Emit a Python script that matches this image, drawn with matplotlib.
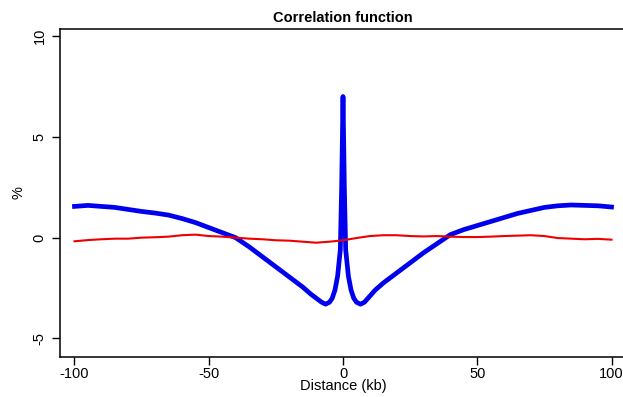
import matplotlib
matplotlib.use("Agg")
import matplotlib.pyplot as plt

plt.rcParams['font.family'] = ['Liberation Sans', 'DejaVu Sans']
plt.rcParams['axes.unicode_minus'] = False

# blue curve (distance in kb, value in %)
blue_x = [-100, -95, -90, -85, -80, -75, -70, -65, -60, -55, -50, -45, -40, -35,
          -30, -25, -20, -15, -12, -10, -8, -6.5, -5, -4, -3, -2, -1, -0.5, 0,
          0.5, 1, 2, 3, 4, 5, 6.5, 8, 10, 12, 15, 20, 25, 30, 35, 40, 45, 50,
          55, 60, 65, 70, 75, 80, 85, 90, 95, 100]
blue_y = [1.55, 1.6, 1.55, 1.5, 1.4, 1.3, 1.22, 1.12, 0.95, 0.75, 0.5, 0.25, 0.0, -0.45,
          -0.95, -1.45, -1.95, -2.45, -2.8, -3.0, -3.2, -3.3, -3.2, -3.0, -2.6, -1.9, -0.6, 2.5, 7.0,
          2.5, -0.6, -1.9, -2.6, -3.0, -3.2, -3.3, -3.2, -2.9, -2.6, -2.25, -1.75, -1.25, -0.75, -0.3, 0.15, 0.4, 0.6,
          0.8, 1.0, 1.2, 1.35, 1.5, 1.58, 1.62, 1.6, 1.58, 1.52]

# red curve
red_x = list(range(-100, 101, 5))
red_y = [-0.18, -0.12, -0.08, -0.05, -0.05, 0.0, 0.02, 0.05, 0.12, 0.15, 0.08,
         0.05, 0.0, -0.05, -0.08, -0.13, -0.15, -0.2, -0.25, -0.2, -0.13,
         -0.02, 0.08, 0.12, 0.12, 0.08, 0.06, 0.08, 0.05, 0.03, 0.03,
         0.05, 0.08, 0.1, 0.12, 0.08, -0.02, -0.05, -0.08, -0.06, -0.1]

x_ticks = [-100, -50, 0, 50, 100]
y_ticks = [-5, 0, 5, 10]

fig = plt.figure(figsize=(6.23, 3.97), dpi=100)
ax = fig.add_axes([60 / 623, 40 / 397, 566 / 623, 328 / 397])

ax.plot(blue_x, blue_y, color='#0000ee', lw=3.4, solid_joinstyle='round')
ax.plot(red_x, red_y, color='#ee0000', lw=1.5)

ax.set_xlim(-105.4, 105.4)
ax.set_ylim(-5.92, 10.35)
ax.set_xticks(x_ticks)
ax.set_yticks(y_ticks)
ax.set_yticklabels([str(v) for v in y_ticks], rotation=90, va='center')

for s in ax.spines.values():
    s.set_linewidth(1.1)
ax.tick_params(direction='out', length=5.5, width=1.0, labelsize=10.5)
ax.tick_params(axis='x', pad=1.5)
ax.tick_params(axis='y', pad=4)

ax.set_title("Correlation function", fontsize=10.5, fontweight='bold', pad=5)
ax.set_xlabel("Distance (kb)", fontsize=10.5, labelpad=-1)
ax.set_ylabel("%", fontsize=10.5, labelpad=5)

fig.savefig("out.png", dpi=100)
